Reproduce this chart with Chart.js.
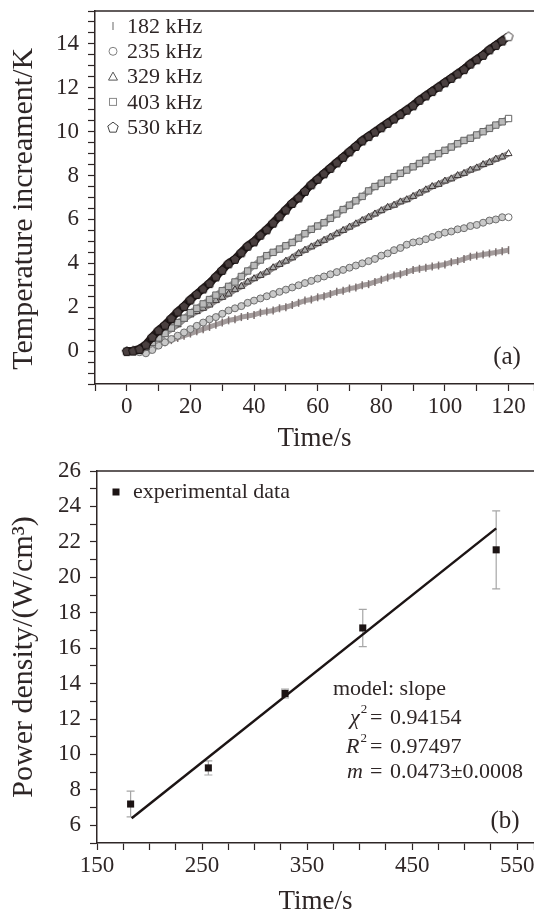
<!DOCTYPE html>
<html>
<head>
<meta charset="utf-8">
<title>Temperature increament and power density</title>
<script src="https://cdn.jsdelivr.net/npm/chart.js@4.4.0/dist/chart.umd.min.js"></script>
<style>
  html, body { margin: 0; padding: 0; background: #fff; overflow: hidden; }
  .panel { position: absolute; left: 0; width: 534px; }
  #panelA { top: 0; height: 455px; }
  #panelB { top: 455px; height: 470px; }
</style>
</head>
<body>
<div class="panel" id="panelA"><canvas id="chartA" width="534" height="455"></canvas></div>
<div class="panel" id="panelB"><canvas id="chartB" width="534" height="470"></canvas></div>
<script>
// (a) temperature rise vs time, one series per frequency
const timeA = [0, 2, 4, 6, 8, 10, 12, 14, 16, 18,
  20, 22, 24, 26, 28, 30, 32, 34, 36, 38,
  40, 42, 44, 46, 48, 50, 52, 54, 56, 58,
  60, 62, 64, 66, 68, 70, 72, 74, 76, 78,
  80, 82, 84, 86, 88, 90, 92, 94, 96, 98,
  100, 102, 104, 106, 108, 110, 112, 114, 116, 118,
  120];
const k182 = [0, 0, 0, 0.05, 0.15, 0.3, 0.4, 0.5, 0.6, 0.7,
  0.8, 0.9, 1.0, 1.1, 1.2, 1.3, 1.4, 1.45, 1.55, 1.6,
  1.65, 1.75, 1.8, 1.85, 1.95, 2.0, 2.1, 2.2, 2.3, 2.35,
  2.45, 2.5, 2.6, 2.7, 2.75, 2.85, 2.9, 3.0, 3.05, 3.15,
  3.25, 3.35, 3.45, 3.5, 3.6, 3.7, 3.75, 3.8, 3.85, 3.9,
  3.95, 4.05, 4.1, 4.2, 4.3, 4.35, 4.4, 4.45, 4.5, 4.55,
  4.6];
const k235 = [0, 0, -0.05, -0.1, 0.05, 0.25, 0.4, 0.55, 0.7, 0.85,
  1.0, 1.15, 1.3, 1.45, 1.55, 1.7, 1.85, 1.95, 2.05, 2.2,
  2.3, 2.4, 2.5, 2.6, 2.7, 2.8, 2.9, 3.0, 3.1, 3.2,
  3.3, 3.4, 3.5, 3.6, 3.7, 3.8, 3.9, 4.0, 4.1, 4.2,
  4.35, 4.45, 4.6, 4.7, 4.85, 4.95, 5.0, 5.1, 5.2, 5.3,
  5.4, 5.45, 5.55, 5.6, 5.7, 5.75, 5.85, 5.95, 6.0, 6.1,
  6.1];
const k329 = [0, 0, 0, 0.15, 0.35, 0.55, 0.8, 1.0, 1.2, 1.45,
  1.65, 1.8, 1.95, 2.1, 2.3, 2.45, 2.6, 2.8, 2.95, 3.15,
  3.3, 3.45, 3.6, 3.8, 3.95, 4.1, 4.25, 4.45, 4.6, 4.75,
  4.9, 5.05, 5.2, 5.35, 5.5, 5.65, 5.8, 5.95, 6.1, 6.25,
  6.4, 6.55, 6.65, 6.8, 6.9, 7.05, 7.2, 7.35, 7.5, 7.6,
  7.75, 7.85, 8.0, 8.1, 8.25, 8.35, 8.5, 8.6, 8.75, 8.85,
  9.0];
const k403 = [0, 0, 0.05, 0.2, 0.4, 0.6, 0.8, 1.05, 1.3, 1.5,
  1.75, 1.95, 2.15, 2.35, 2.55, 2.75, 2.95, 3.15, 3.4, 3.65,
  3.9, 4.15, 4.35, 4.5, 4.65, 4.8, 4.95, 5.15, 5.35, 5.55,
  5.7, 5.85, 6.05, 6.25, 6.45, 6.65, 6.85, 7.05, 7.3, 7.5,
  7.65, 7.8, 7.95, 8.1, 8.25, 8.4, 8.55, 8.7, 8.85, 9.0,
  9.15, 9.3, 9.45, 9.6, 9.7, 9.85, 10.0, 10.15, 10.3, 10.45,
  10.6];
const k530 = [0, 0.02, 0.1, 0.3, 0.65, 0.95, 1.2, 1.5, 1.8, 2.05,
  2.35, 2.6, 2.85, 3.1, 3.4, 3.7, 4.0, 4.2, 4.5, 4.8,
  5.0, 5.3, 5.55, 5.85, 6.15, 6.45, 6.75, 7.0, 7.3, 7.6,
  7.85, 8.1, 8.35, 8.6, 8.85, 9.1, 9.35, 9.6, 9.8, 10.0,
  10.2, 10.4, 10.6, 10.8, 11.0, 11.2, 11.45, 11.65, 11.85, 12.05,
  12.25, 12.45, 12.65, 12.85, 13.1, 13.3, 13.5, 13.75, 13.95, 14.15,
  14.35];
const seriesLabels = ['182 kHz', '235 kHz', '329 kHz', '403 kHz', '530 kHz'];

// (b) power density, experimental points with error bars and linear fit
const freqB = [182, 256, 329, 403, 530];
const powerB = [7.2, 9.24, 13.44, 17.14, 21.55];
const powerErr = [0.73, 0.4, 0.25, 1.05, 2.2];
const fitX = [183, 530];
const fitY = [6.4, 22.76];
const fitText = ['model: slope', '0.94154', '0.97497', '0.0473\u00b10.0008'];

const SERIF = '"Liberation Serif", "DejaVu Serif", serif';
const INK = '#2e2626';

function pts(xs, ys) {
  return xs.map((x, i) => ({ x: x, y: ys[i] }));
}

function pentagonPath(ctx, cx, cy, r) {
  ctx.beginPath();
  for (let k = 0; k < 5; k++) {
    const a = -Math.PI / 2 + k * 2 * Math.PI / 5;
    const px = cx + r * Math.cos(a), py = cy + r * Math.sin(a);
    if (k === 0) ctx.moveTo(px, py); else ctx.lineTo(px, py);
  }
  ctx.closePath();
}

function pentagonImage(fill, stroke, r) {
  const c = document.createElement('canvas');
  const s = Math.ceil(2 * r + 4);
  c.width = s; c.height = s;
  const g = c.getContext('2d');
  pentagonPath(g, s / 2, s / 2 + 0.5, r);
  g.fillStyle = fill; g.fill();
  g.strokeStyle = stroke; g.lineWidth = 1; g.stroke();
  return c;
}
const pentDark = pentagonImage('#4a4040', '#120c0c', 4.8);
const pentWhite = pentagonImage('#ffffff', '#3a3434', 4.8);

function lastWhite(col) {
  return c => c.dataIndex === c.dataset.data.length - 1 ? '#ffffff' : col;
}

// shared decoration: the top frame line
const topFrame = {
  id: 'topFrame',
  afterDraw(chart) {
    const { ctx, chartArea: a } = chart;
    ctx.save();
    ctx.strokeStyle = INK;
    ctx.lineWidth = 1.5;
    ctx.beginPath();
    ctx.moveTo(a.left, a.top);
    ctx.lineTo(a.right, a.top);
    ctx.stroke();
    ctx.restore();
  }
};

function legendSymbol(ctx, i, x, y) {
  ctx.save();
  ctx.lineWidth = 1;
  ctx.fillStyle = '#fff';
  if (i === 0) {
    ctx.strokeStyle = '#9a9a9a'; ctx.lineWidth = 1.5;
    ctx.beginPath(); ctx.moveTo(x, y - 4); ctx.lineTo(x, y + 4); ctx.stroke();
  } else if (i === 1) {
    ctx.strokeStyle = '#808080';
    ctx.beginPath(); ctx.arc(x, y, 4, 0, 2 * Math.PI); ctx.fill(); ctx.stroke();
  } else if (i === 2) {
    ctx.strokeStyle = '#555';
    ctx.beginPath(); ctx.moveTo(x, y - 4.5); ctx.lineTo(x + 4.5, y + 3.5); ctx.lineTo(x - 4.5, y + 3.5); ctx.closePath();
    ctx.fill(); ctx.stroke();
  } else if (i === 3) {
    ctx.strokeStyle = '#8a8a8a';
    ctx.fillRect(x - 3.5, y - 3.5, 7, 7); ctx.strokeRect(x - 3.5, y - 3.5, 7, 7);
  } else {
    ctx.strokeStyle = '#444';
    pentagonPath(ctx, x, y + 0.5, 5.5); ctx.fill(); ctx.stroke();
  }
  ctx.restore();
}

const labelsA = {
  id: 'labelsA',
  afterDraw(chart) {
    const { ctx, chartArea: a } = chart;
    ctx.save();
    ctx.textBaseline = 'middle';
    ctx.font = '22px ' + SERIF;
    seriesLabels.forEach((lab, i) => {
      const y = a.top + 15 + i * 25.3;
      const x = a.left + 18;
      legendSymbol(ctx, i, x, y);
      ctx.fillStyle = INK;
      ctx.textAlign = 'left';
      ctx.fillText(lab, x + 14, y + 1);
    });
    ctx.font = '25px ' + SERIF;
    ctx.textAlign = 'center';
    ctx.fillText('(a)', a.right - 27, a.bottom - 27);
    ctx.restore();
  }
};

function axisX(min, max, step, labelFrom, every, height, titlePad) {
  return {
    type: 'linear', min: min, max: max, bounds: 'data',
    afterFit: s => { s.height = height; s.paddingLeft = 0; s.paddingRight = 0; },
    ticks: {
      stepSize: step, includeBounds: false, autoSkip: false, maxRotation: 0, minRotation: 0,
      padding: 2, color: INK, font: { family: SERIF, size: 23 },
      callback: v => (v >= labelFrom && (v - labelFrom) % every === 0) ? String(v) : ''
    },
    grid: { drawOnChartArea: false, tickLength: 7, tickColor: INK, tickWidth: 1.2 },
    border: { color: INK, width: 1.5 },
    title: { display: true, text: 'Time/s', color: INK, font: { family: SERIF, size: 27 }, padding: { top: 0, bottom: titlePad } }
  };
}

function axisY(min, max, step, width, show, title) {
  return {
    type: 'linear', min: min, max: max, bounds: 'data',
    afterFit: s => { s.width = width; s.paddingTop = 0; s.paddingBottom = 0; },
    ticks: {
      stepSize: step, includeBounds: false, autoSkip: false,
      padding: 9, color: INK, font: { family: SERIF, size: 23 },
      callback: v => { const r = Math.round(v * 2) / 2; return show(r) ? String(r) : ''; }
    },
    grid: { drawOnChartArea: false, tickLength: 7, tickColor: INK, tickWidth: 1.2 },
    border: { color: INK, width: 1.5 },
    title: { display: true, text: title, color: INK, font: { family: SERIF, size: 30 }, padding: { top: 6, bottom: 0 } }
  };
}

// chart (a)
const ctxA = document.getElementById('chartA').getContext('2d');
const chartA = new Chart(ctxA, {
  type: 'scatter',
  data: {
    datasets: [
      {
        label: seriesLabels[0], data: pts(timeA, k182), showLine: true, order: 4,
        borderColor: '#a39b9b', borderWidth: 5,
        pointStyle: 'line', rotation: 90, pointRadius: 4,
        pointBorderColor: '#7a6f6f', pointBorderWidth: 1.5
      },
      {
        label: seriesLabels[1], data: pts(timeA, k235), showLine: true, order: 3,
        borderColor: '#b2b2b2', borderWidth: 5,
        pointStyle: 'circle', pointRadius: 3.5,
        pointBackgroundColor: lastWhite('#c9c9c9'), pointBorderColor: '#6e6e6e', pointBorderWidth: 1
      },
      {
        label: seriesLabels[2], data: pts(timeA, k329), showLine: true, order: 2,
        borderColor: '#8e8a8a', borderWidth: 6,
        pointStyle: 'triangle', pointRadius: 4,
        pointBackgroundColor: lastWhite('#ababab'), pointBorderColor: '#3e3838', pointBorderWidth: 1
      },
      {
        label: seriesLabels[3], data: pts(timeA, k403), showLine: true, order: 1,
        borderColor: '#9d9d9d', borderWidth: 6,
        pointStyle: 'rect', pointRadius: 4.5,
        pointBackgroundColor: lastWhite('#bababa'), pointBorderColor: '#666', pointBorderWidth: 1
      },
      {
        label: seriesLabels[4], data: pts(timeA, k530), showLine: true, order: 0,
        borderColor: '#261c1c', borderWidth: 8,
        pointStyle: c => c.dataIndex === k530.length - 1 ? pentWhite : pentDark, pointRadius: 4.8
      }
    ]
  },
  options: {
    responsive: false,
    animation: false,
    devicePixelRatio: 1,
    layout: { autoPadding: false, padding: { top: 11, right: 0, bottom: 0, left: 0 } },
    plugins: { legend: { display: false }, tooltip: { enabled: false } },
    scales: {
      x: axisX(-10, 128, 10, 0, 20, 71, 0),
      y: axisY(-1.5, 15.5, 0.5, 95, r => Number.isInteger(r) && r % 2 === 0, 'Temperature increament/K   ')
    }
  },
  plugins: [topFrame, labelsA]
});

// chart (b)
const labelsB = {
  id: 'labelsB',
  beforeDatasetsDraw(chart) {
    const { ctx, scales: { x, y } } = chart;
    ctx.save();
    ctx.strokeStyle = '#a6a6a6';
    ctx.lineWidth = 1.2;
    freqB.forEach((f, i) => {
      const px = x.getPixelForValue(f);
      const y1 = y.getPixelForValue(powerB[i] - powerErr[i]);
      const y2 = y.getPixelForValue(powerB[i] + powerErr[i]);
      ctx.beginPath();
      ctx.moveTo(px, y1); ctx.lineTo(px, y2);
      ctx.moveTo(px - 4, y1); ctx.lineTo(px + 4, y1);
      ctx.moveTo(px - 4, y2); ctx.lineTo(px + 4, y2);
      ctx.stroke();
    });
    ctx.restore();
  },
  afterDraw(chart) {
    const { ctx, chartArea: a } = chart;
    ctx.save();
    ctx.textBaseline = 'middle';
    ctx.textAlign = 'left';
    ctx.fillStyle = '#1c1414';
    ctx.fillRect(a.left + 15.5, a.top + 17.5, 7, 7);
    ctx.fillStyle = INK;
    ctx.font = '22px ' + SERIF;
    ctx.fillText('experimental data', a.left + 36, a.top + 21);

    const eqX = a.left + 273, valX = a.left + 293;
    ctx.fillText(fitText[0], a.left + 236, a.top + 218);
    const rows = [
      { sym: '\u03c7', sup: '2', val: fitText[1], x: a.left + 253, y: a.top + 247 },
      { sym: 'R', sup: '2', val: fitText[2], x: a.left + 249, y: a.top + 276 },
      { sym: 'm', sup: '', val: fitText[3], x: a.left + 250, y: a.top + 301 }
    ];
    rows.forEach(r => {
      ctx.font = 'italic 22px ' + SERIF;
      ctx.fillText(r.sym, r.x, r.y);
      const w = ctx.measureText(r.sym).width;
      if (r.sup) {
        ctx.font = '13px ' + SERIF;
        ctx.fillText(r.sup, r.x + w + 1, r.y - 8);
      }
      ctx.font = '22px ' + SERIF;
      ctx.fillText('=', eqX, r.y);
      ctx.fillText(r.val, valX, r.y);
    });
    ctx.font = '25px ' + SERIF;
    ctx.textAlign = 'center';
    ctx.fillText('(b)', a.right - 29, a.bottom - 22);
    ctx.restore();
  }
};

const ctxB = document.getElementById('chartB').getContext('2d');
const chartB = new Chart(ctxB, {
  type: 'scatter',
  data: {
    datasets: [
      {
        label: 'experimental data', data: pts(freqB, powerB), order: 0,
        pointStyle: 'rect', pointRadius: 5,
        pointBackgroundColor: '#1c1414', pointBorderColor: '#1c1414', pointBorderWidth: 0
      },
      {
        label: 'model: slope', data: pts(fitX, fitY), order: 1, showLine: true,
        borderColor: '#1c1414', borderWidth: 2.5, pointRadius: 0
      }
    ]
  },
  options: {
    responsive: false,
    animation: false,
    devicePixelRatio: 1,
    layout: { autoPadding: false, padding: { top: 16, right: 0, bottom: 0, left: 0 } },
    plugins: { legend: { display: false }, tooltip: { enabled: false } },
    scales: {
      x: axisX(150, 566, 25, 150, 100, 82, 7),
      y: axisY(5, 26, 1, 97, r => Number.isInteger(r) && r % 2 === 0 && r >= 6, 'Power density/(W/cm\u00b3)')
    }
  },
  plugins: [topFrame, labelsB]
});
</script>
</body>
</html>
